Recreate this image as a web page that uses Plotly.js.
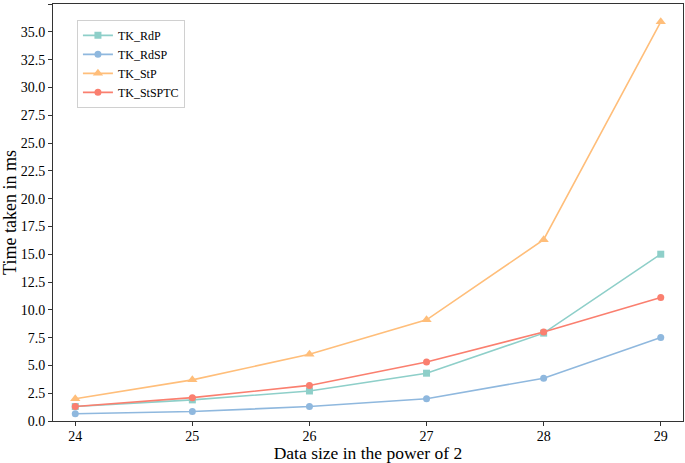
<!DOCTYPE html>
<html>
<head>
<meta charset="utf-8">
<script src="https://cdn.plot.ly/plotly-3.0.1.min.js"></script>
<style>html,body{margin:0;padding:0;background:#fff;}#chart{width:685px;height:463px;}</style>
</head>
<body>
<div id="chart"></div>
<script>
const dataSizes = [24, 25, 26, 27, 28, 29];
const tkRdP = [1.3, 1.9, 2.7, 4.3, 7.9, 15.0];
const tkRdSP = [0.65, 0.85, 1.3, 2.0, 3.85, 7.5];
const tkStP = [2.0, 3.7, 6.0, 9.1, 16.3, 35.9];
const tkStSPTC = [1.3, 2.1, 3.2, 5.3, 8.0, 11.1];
const seriesNames = ['TK_RdP', 'TK_RdSP', 'TK_StP', 'TK_StSPTC'];
const yTickVals = [0, 2.5, 5, 7.5, 10, 12.5, 15, 17.5, 20, 22.5, 25, 27.5, 30, 32.5, 35, 37.5];
const yTickText = yTickVals.map(v => v.toFixed(1));

const colors = ['#8ECFC9', '#8FB8DE', '#FFBE7A', '#FA7F6F'];
const symbols = ['square', 'circle', 'triangle-up', 'circle'];
const sizes = [7, 7, 9, 7];
const values = [tkRdP, tkRdSP, tkStP, tkStSPTC];

const traces = values.map((v, i) => ({
  x: dataSizes, y: v, name: seriesNames[i], type: 'scatter', mode: 'lines+markers',
  line: {color: colors[i], width: 1.6},
  marker: {color: colors[i], symbol: symbols[i], size: sizes[i]}
}));

const font = 'Liberation Serif, Times New Roman, serif';
const layout = {
  width: 685, height: 463,
  margin: {l: 53, r: 2, t: 4, b: 42},
  paper_bgcolor: '#fff', plot_bgcolor: '#fff',
  font: {family: font, color: '#000', size: 14},
  showlegend: true,
  legend: {x: 0.038, y: 0.962, xanchor: 'left', yanchor: 'top', bgcolor: 'rgba(255,255,255,0.8)',
    bordercolor: '#d0d0d0', borderwidth: 1, font: {family: font, size: 12}, tracegroupgap: 0, itemwidth: 30},
  xaxis: {
    range: [23.81, 29.19], tickvals: dataSizes, ticktext: dataSizes.map(String),
    ticks: 'outside', ticklen: 4, tickcolor: '#333', showgrid: false, zeroline: false,
    showline: true, linecolor: '#333', linewidth: 1, mirror: true,
    ticklabelstandoff: -2,
    tickfont: {family: font, size: 14},
    title: {text: 'Data size in the power of 2', font: {family: font, size: 17.5}, standoff: 4}
  },
  yaxis: {
    range: [0, 37.5], tickvals: yTickVals, ticktext: yTickText,
    ticks: 'outside', ticklen: 4, tickcolor: '#333', showgrid: false, zeroline: false,
    showline: true, linecolor: '#333', linewidth: 1, mirror: true,
    tickfont: {family: font, size: 14},
    title: {text: 'Time taken in ms', font: {family: font, size: 18}, standoff: 5}
  }
};
Plotly.newPlot('chart', traces, layout, {displayModeBar: false, staticPlot: true});
</script>
</body>
</html>
